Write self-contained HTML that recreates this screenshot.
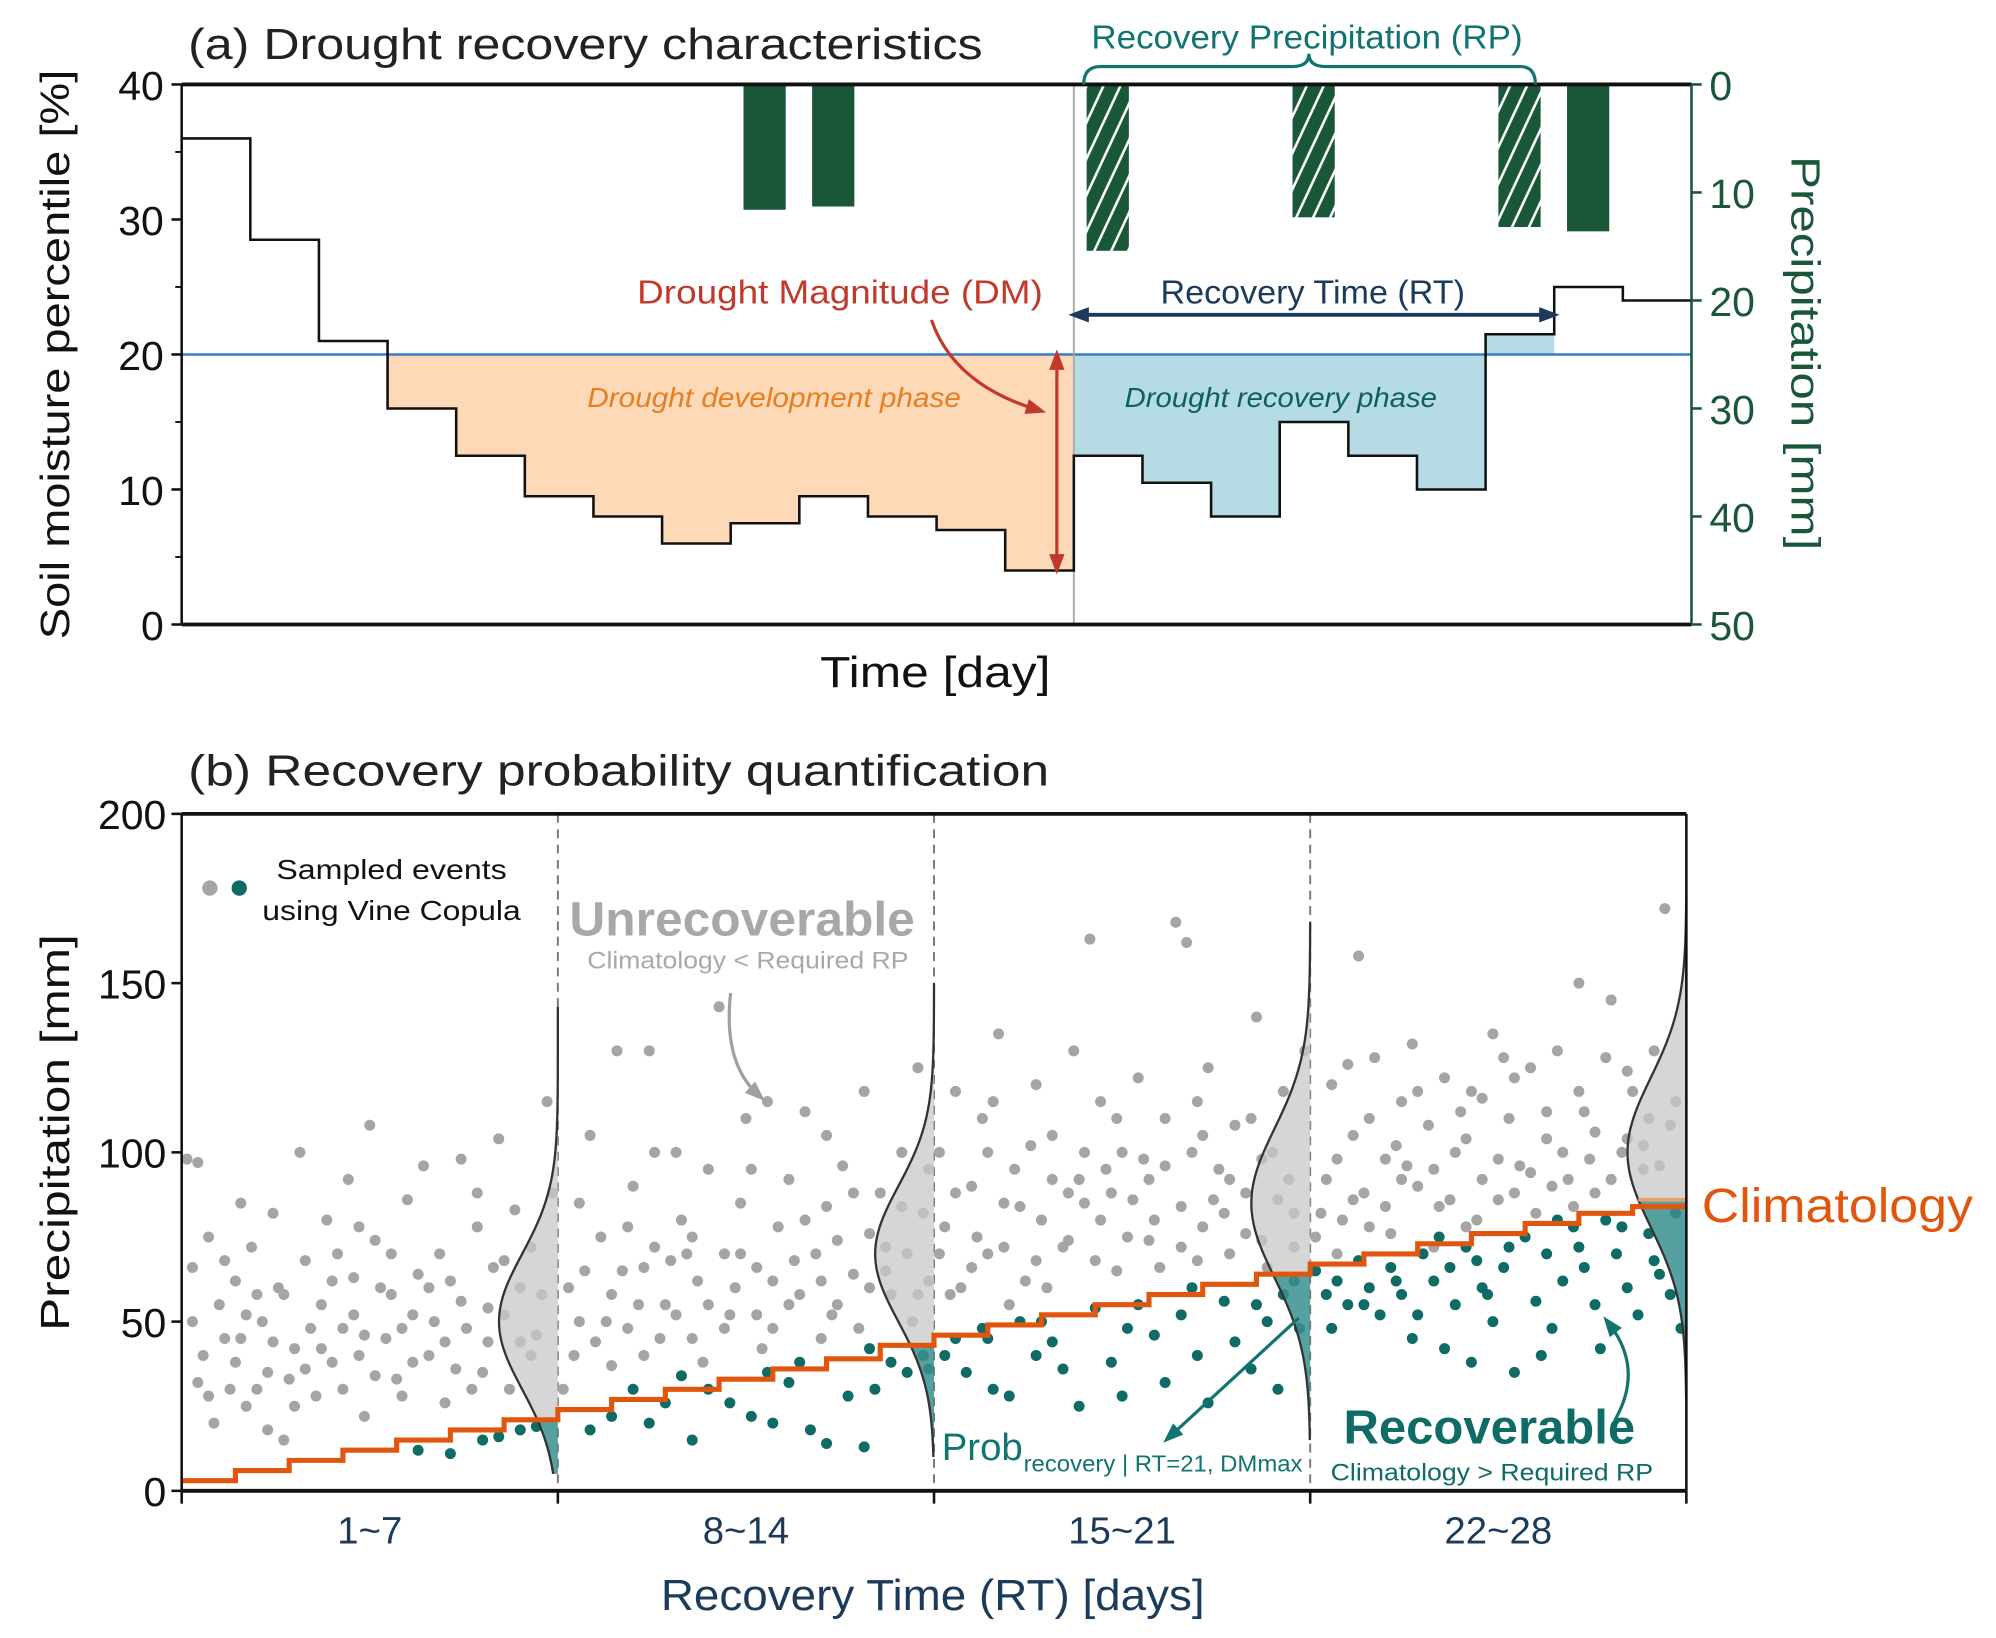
<!DOCTYPE html>
<html><head><meta charset="utf-8"><style>
html,body{margin:0;padding:0;background:#fff;}
svg{display:block;font-family:"Liberation Sans",sans-serif;}
</style></head><body>
<svg id="fig" width="1996" height="1638" viewBox="0 0 1560 1280" preserveAspectRatio="none" xmlns="http://www.w3.org/2000/svg">
<defs>
<pattern id="hatch" patternUnits="userSpaceOnUse" width="12" height="12" patternTransform="rotate(25)">
<rect width="12" height="12" fill="#1a5638"/><line x1="6" y1="0" x2="6" y2="12" stroke="#fff" stroke-width="2"/>
</pattern>
<marker id="arrRed" markerUnits="userSpaceOnUse" markerWidth="16" markerHeight="16" refX="8" refY="8" orient="auto-start-reverse"><path d="M0,2 L16,8 L0,14 Z" fill="#c0392b"/></marker>
<marker id="arrNavy" markerUnits="userSpaceOnUse" markerWidth="16" markerHeight="16" refX="8" refY="8" orient="auto-start-reverse"><path d="M0,2 L16,8 L0,14 Z" fill="#1c3b5a"/></marker>
<marker id="arrGray" markerUnits="userSpaceOnUse" markerWidth="16" markerHeight="16" refX="8" refY="8" orient="auto"><path d="M0,2 L16,8 L0,14 Z" fill="#a0a0a0"/></marker>
<marker id="arrTeal" markerUnits="userSpaceOnUse" markerWidth="16" markerHeight="16" refX="8" refY="8" orient="auto"><path d="M0,2 L16,8 L0,14 Z" fill="#117470"/></marker>
</defs>
<g id="pa"></g>
<g id="pb"></g>

<text x="147" y="46" font-size="34" fill="#222" textLength="621" lengthAdjust="spacingAndGlyphs">(a) Drought recovery characteristics</text>
<text x="853" y="38" font-size="26" fill="#117470" textLength="337" lengthAdjust="spacingAndGlyphs">Recovery Precipitation (RP)</text>
<path d="M847,66 Q847,52 860,52 L1010,52 Q1023,52 1023,42 Q1023,52 1036,52 L1188,52 Q1200,52 1200,66" fill="none" stroke="#117470" stroke-width="2.5"/>
<text transform="translate(54,277) rotate(-90)" text-anchor="middle" font-size="32" fill="#111" textLength="445" lengthAdjust="spacingAndGlyphs">Soil moisture percentile [%]</text>
<text transform="translate(1400,276) rotate(90)" text-anchor="middle" font-size="32" fill="#1a5638" textLength="308" lengthAdjust="spacingAndGlyphs">Precipitation [mm]</text>
<text x="731" y="537" text-anchor="middle" font-size="34" fill="#111" textLength="180" lengthAdjust="spacingAndGlyphs">Time [day]</text>
<text x="498" y="237" font-size="26" fill="#c0392b" textLength="317" lengthAdjust="spacingAndGlyphs">Drought Magnitude (DM)</text>
<text x="907" y="237" font-size="26" fill="#1c3b5a" textLength="238" lengthAdjust="spacingAndGlyphs">Recovery Time (RT)</text>
<text x="459" y="318" font-size="22" font-style="italic" fill="#e67e22" textLength="292" lengthAdjust="spacingAndGlyphs">Drought development phase</text>
<text x="879" y="318" font-size="22" font-style="italic" fill="#0f5f5c" textLength="244" lengthAdjust="spacingAndGlyphs">Drought recovery phase</text>
<line x1="843" y1="246" x2="1211" y2="246" stroke="#1c3b5a" stroke-width="3" marker-start="url(#arrNavy)" marker-end="url(#arrNavy)"/>
<line x1="826" y1="281" x2="826" y2="441" stroke="#c0392b" stroke-width="2.5" marker-start="url(#arrRed)" marker-end="url(#arrRed)"/>
<path d="M728,250 Q745,300 810,320" fill="none" stroke="#c0392b" stroke-width="2.5" marker-end="url(#arrRed)"/>

<text x="147" y="614" font-size="34" fill="#222" textLength="673" lengthAdjust="spacingAndGlyphs">(b) Recovery probability quantification</text>
<text transform="translate(54,885) rotate(-90)" text-anchor="middle" font-size="32" fill="#111" textLength="310" lengthAdjust="spacingAndGlyphs">Precipitation [mm]</text>
<text x="729" y="1258" text-anchor="middle" font-size="34" fill="#1c3b5a" textLength="425" lengthAdjust="spacingAndGlyphs">Recovery Time (RT) [days]</text>
<circle cx="164" cy="694" r="6" fill="#a5a5a5"/>
<circle cx="187" cy="694" r="6" fill="#0e6b66"/>
<text x="306" y="687" text-anchor="middle" font-size="22" fill="#111" textLength="180" lengthAdjust="spacingAndGlyphs">Sampled events</text>
<text x="306" y="719" text-anchor="middle" font-size="22" fill="#111" textLength="202" lengthAdjust="spacingAndGlyphs">using Vine Copula</text>
<text x="445" y="731" font-size="38" font-weight="bold" fill="#a8a8a8" textLength="270" lengthAdjust="spacingAndGlyphs">Unrecoverable</text>
<text x="459" y="757" font-size="19" fill="#a8a8a8" textLength="251" lengthAdjust="spacingAndGlyphs">Climatology &lt; Required RP</text>
<path d="M571,776 Q565,830 592,855" fill="none" stroke="#a0a0a0" stroke-width="2.5" marker-end="url(#arrGray)"/>
<text x="1330" y="955" font-size="38" fill="#e0560f" textLength="212" lengthAdjust="spacingAndGlyphs">Climatology</text>
<text x="1050" y="1128" font-size="38" font-weight="bold" fill="#0e6b66" textLength="228" lengthAdjust="spacingAndGlyphs">Recoverable</text>
<text x="1040" y="1157" font-size="19" fill="#0e6b66" textLength="252" lengthAdjust="spacingAndGlyphs">Climatology &gt; Required RP</text>
<text x="736" y="1141" font-size="30" fill="#117470">Prob</text>
<text x="800" y="1150" font-size="18" fill="#117470" textLength="218" lengthAdjust="spacingAndGlyphs">recovery | RT=21, DMmax</text>
<line x1="1015" y1="1030" x2="915" y2="1122" stroke="#117470" stroke-width="2.5" marker-end="url(#arrTeal)"/>
<path d="M1262,1110 Q1285,1070 1258,1035" fill="none" stroke="#117470" stroke-width="2.5" marker-end="url(#arrTeal)"/>
</svg>
<script>
const soilSteps = [36,28.5,21,16,12.5,9.5,8,6,7.5,9.5,8,7,4,12.5,10.5,8,15,12.5,10,21.5,25,24];
const precipDays = [8,9,13,16,19,20];
const precipValues = [11.6,11.3,15.4,12.3,13.2,13.6];
const precipHatched = [false,false,true,true,true,false];
const soilTicks = [0,10,20,30,40];
const precipTicks = [0,10,20,30,40,50];
const droughtThreshold = 20;

const rtLabels = ["1~7","8~14","15~21","22~28"];
const climatology = [3,6,9,12,15,18,21,24,27,30,33,36,39,43,46,49,52,55,58,61,64,67,70,73,76,79,82,84];
const sectionClim = [21,43,64,86];
const kdeMean = [50,70,85,100];
const kdeSd = [20,20,22,22];
const kdeLow = [5,10,15,27];
const kdeHigh = [143,150,168,174];
const pbTicks = [0,50,100,150,200];
const grayX = [0.1,0.3,0.2,0.5,0.4,0.7,0.6,0.9,1.0,1.1,1.3,1.2,1.5,1.6,1.7,1.8,1.9,2.1,2.2,2.3,2.5,2.6,2.7,2.8,3.0,3.1,3.2,3.4,3.5,3.6,3.8,3.9,4.0,4.2,4.3,4.5,4.6,4.8,4.9,5.0,5.2,5.3,5.5,5.6,5.8,5.9,6.0,6.2,6.3,6.5,6.7,6.8,6.9,0.8,1.4,2.0,2.9,3.3,4.1,4.4,5.1,5.7,6.1,6.6,0.3,1.6,2.4,3.7,4.7,
0.2,0.5,0.8,1.0,1.2,1.4,1.7,1.9,2.1,2.3,2.6,2.8,3.0,3.2,3.4,3.6,3.9,4.1,4.3,4.6,4.9,5.2,5.4,5.7,6.0,6.3,6.5,1.1,3.3,5.5,
7.2,7.4,7.3,7.6,7.8,7.9,8.1,8.2,8.4,8.6,8.7,8.8,9.0,9.2,9.3,9.5,9.6,9.8,10.0,10.1,10.2,10.4,10.5,10.7,10.9,11.0,11.1,11.3,11.5,11.6,11.8,12.0,12.1,12.3,12.5,12.7,12.8,13.0,13.2,13.4,13.5,13.7,13.8,13.9,7.5,8.0,8.5,9.1,9.7,10.3,10.8,11.4,12.2,12.6,13.1,13.6,11.9,9.4,8.3,
7.1,7.4,7.7,8.0,8.3,8.6,8.9,9.2,9.5,9.8,10.1,10.4,10.7,11.0,11.3,11.6,11.9,12.2,12.5,12.8,13.1,13.4,13.7,13.9,10.6,8.8,12.0,
14.1,14.2,14.4,14.5,14.7,14.9,15.0,15.2,15.3,15.5,15.7,15.9,16.0,16.2,16.4,16.6,16.7,16.9,17.0,17.1,17.3,17.5,17.6,17.8,18.0,18.2,18.3,18.5,18.6,18.7,18.8,19.0,19.1,19.3,19.5,19.6,19.8,20.0,20.1,20.3,20.5,20.7,20.9,14.3,14.8,15.4,16.1,16.8,17.4,18.1,18.9,19.4,20.2,20.6,15.8,17.9,19.9,16.5,
14.1,14.4,14.7,15.0,15.3,15.6,15.9,16.2,16.5,16.8,17.1,17.4,17.7,18.0,18.3,18.6,18.9,19.2,19.5,19.8,20.1,20.4,20.7,17.2,15.1,19.0,
21.1,21.3,21.4,21.6,21.8,21.9,22.0,22.2,22.4,22.5,22.7,22.9,23.0,23.2,23.4,23.5,23.7,23.9,24.0,24.2,24.4,24.5,24.7,24.9,25.1,25.2,25.4,25.6,25.8,26.0,26.1,26.3,26.5,26.6,26.8,27.0,27.2,27.4,27.6,27.7,21.5,22.1,22.8,23.3,24.1,24.8,25.5,26.2,26.9,27.3,25.9,23.8,22.6,
21.2,21.5,21.8,22.1,22.4,22.7,23.0,23.3,23.6,23.9,24.2,24.5,24.8,25.1,25.4,25.7,26.0,26.3,26.6,26.9,27.2,27.5,27.8,21.7,24.6];
const grayY = [98,97,66,75,40,55,20,30,62,45,72,25,50,35,82,60,15,42,100,68,28,55,80,38,48,92,63,22,108,74,45,58,33,86,52,96,40,70,26,62,98,48,78,35,66,104,52,83,44,72,58,115,88,45,58,33,70,40,28,64,36,54,30,46,32,18,48,60,50,
50,28,68,38,52,30,44,58,25,36,42,62,30,52,46,34,70,48,38,60,44,56,30,44,68,60,40,85,78,88,
60,85,40,105,75,50,130,65,90,40,130,72,55,100,80,45,62,95,143,70,52,85,110,66,115,48,78,92,58,112,70,84,52,96,64,118,76,88,58,100,70,125,82,62,65,37,55,68,38,60,42,68,74,48,72,50,45,70,78,
30,50,44,58,48,66,45,52,75,55,48,70,52,62,55,80,62,55,88,60,65,84,58,95,95,100,105,
100,78,118,60,90,110,70,135,85,95,62,120,80,105,72,130,92,163,68,115,88,100,75,122,92,66,110,168,84,162,100,78,125,95,70,108,88,140,74,100,118,82,130,58,75,55,60,85,65,80,68,82,66,92,102,98,110,88,
70,88,66,100,72,84,68,92,74,100,80,110,86,74,96,72,115,86,92,76,98,86,72,95,115,105,
75,92,120,80,105,158,88,128,98,76,115,132,90,108,84,122,100,78,118,92,135,86,110,96,125,82,104,130,92,150,112,88,128,145,100,118,95,130,172,108,70,78,96,72,80,88,90,98,104,110,84,112,102,
82,98,86,110,84,92,118,95,86,104,116,98,122,94,112,100,118,106,92,124,102,96,115,126,128];
const tealX = [4.4,5.0,5.6,5.9,6.3,6.6,
7.6,8.0,8.4,8.7,9.0,9.5,9.8,10.2,10.6,11.0,11.3,11.7,12.0,12.4,12.9,13.2,13.5,13.8,12.7,10.9,9.3,11.5,12.8,13.9,
14.2,14.4,14.6,14.9,15.1,15.4,15.6,15.9,16.2,16.4,16.7,17.0,17.3,17.5,17.8,18.1,18.3,18.6,18.9,19.1,19.4,19.6,19.9,20.2,20.5,20.8,20.4,15.0,16.0,17.6,18.8,20.0,20.7,
21.1,21.3,21.5,21.7,21.9,22.1,22.3,22.5,22.7,22.9,23.1,23.3,23.5,23.7,23.9,24.0,24.2,24.4,24.6,24.8,25.0,25.2,25.4,25.5,25.7,25.9,26.1,26.3,26.5,26.7,26.9,27.1,27.3,27.5,27.7,27.9,26.4,25.3,24.3,23.6,
21.4,22.0,22.6,23.0,23.4,24.1,24.7,25.6,26.0,26.8,27.4,27.8];
const tealY = [12,11,15,16,18,19,
18,22,30,20,26,15,30,26,22,20,32,18,14,28,30,38,35,40,13,35,34,38,42,36,
40,45,35,48,30,28,50,40,44,36,25,54,38,28,55,46,32,52,40,26,56,44,36,50,58,48,30,45,50,48,60,55,62,
65,58,62,55,68,60,52,66,58,45,70,62,42,55,72,38,60,50,66,35,75,56,70,48,62,78,66,55,80,70,60,52,76,64,58,48,42,40,58,66,
48,55,62,52,75,68,72,80,72,78,68,82];

const NS = "http://www.w3.org/2000/svg";
function mk(parent, tag, attrs){const e=document.createElementNS(NS,tag);for(const k in attrs)e.setAttribute(k,attrs[k]);parent.appendChild(e);return e;}

const pa = document.getElementById('pa');
const aL=142,aR=1322,aT=66,aB=488;
const nSteps = soilSteps.length;
const sw=(aR-aL)/nSteps;
const ax = i => aL + i*sw;
const ay = v => aB - (v/40)*(aB-aT);
const py = v => aT + (v/50)*(aB-aT);

for(let i=0;i<nSteps;i++){
  const v=soilSteps[i];
  if(i<13 && v<droughtThreshold){
    const r=mk(pa,'rect',{x:ax(i),y:ay(droughtThreshold),width:sw+0.5,height:ay(v)-ay(droughtThreshold),fill:'#fdd9b8'});
    
    
  } else if(i>=13 && i<19 && v<droughtThreshold){
    const r=mk(pa,'rect',{x:ax(i),y:ay(droughtThreshold),width:sw+0.5,height:ay(v)-ay(droughtThreshold),fill:'#b5dbe4'});
    
    
  } else if(i===19){
    const r=mk(pa,'rect',{x:ax(i),y:ay(v),width:sw,height:ay(droughtThreshold)-ay(v),fill:'#b5dbe4'});
    
    
  }
}
for(let k=0;k<precipDays.length;k++){
  const b=mk(pa,'rect',{x:ax(precipDays[k])+10,y:aT,width:33,height:py(precipValues[k])-aT,fill:precipHatched[k]?'url(#hatch)':'#1a5638'});
  
  
}
const th=mk(pa,'line',{x1:aL,x2:aR,y1:ay(droughtThreshold),y2:ay(droughtThreshold),stroke:'#3a7bc8','stroke-width':2});


const dv=mk(pa,'line',{x1:ax(13),x2:ax(13),y1:aT,y2:aB,stroke:'#aaa','stroke-width':1.5});


let d="";
for(let i=0;i<nSteps;i++){ d += (i===0?"M":"L")+ax(i)+","+ay(soilSteps[i])+" L"+ax(i+1)+","+ay(soilSteps[i])+" "; }
const sl=mk(pa,'path',{d:d,fill:'none',stroke:'#111','stroke-width':2});


const fr=mk(pa,'path',{d:`M${aL},${aT} L${aR},${aT} M${aL},${aB} L${aR},${aB}`,stroke:'#111','stroke-width':3,fill:'none'});


const la=mk(pa,'line',{x1:aL,x2:aL,y1:aT,y2:aB,stroke:'#111','stroke-width':2});


const ra=mk(pa,'line',{x1:aR,x2:aR,y1:aT,y2:aB,stroke:'#1a5638','stroke-width':2});


soilTicks.forEach(t=>{
  const tk=mk(pa,'line',{x1:aL-8,x2:aL,y1:ay(t),y2:ay(t),stroke:'#111','stroke-width':2});
  
  
  const tl=mk(pa,'text',{x:aL-14,y:ay(t)+12,'text-anchor':'end','font-size':32,fill:'#111'});
  tl.textContent=t;
  
  
});
soilTicks.slice(0,4).forEach(t=>{
  const tk=mk(pa,'line',{x1:aL-5,x2:aL,y1:ay(t+5),y2:ay(t+5),stroke:'#111','stroke-width':1.5});
  
  
});
precipTicks.forEach(t=>{
  const tk=mk(pa,'line',{x1:aR,x2:aR+8,y1:py(t),y2:py(t),stroke:'#1a5638','stroke-width':2});
  
  
  const tl=mk(pa,'text',{x:aR+14,y:py(t)+12,'font-size':32,fill:'#1a5638'});
  tl.textContent=t;
  
  
});

const pb=document.getElementById('pb');
const bL=142,bR=1318,bT=636,bB=1165;
const days=climatology.length;
const bx = dday => bL + dday*(bR-bL)/days;
const by = v => bB - (v/200)*(bB-bT);
const secW=(bR-bL)/4;
for(let s=1;s<4;s++){
  const l=mk(pb,'line',{x1:bL+s*secW,x2:bL+s*secW,y1:bT,y2:bB,stroke:'#777','stroke-width':1.5,'stroke-dasharray':'7,5'});
  
  
}
for(let i=0;i<grayX.length;i++){
  const c=mk(pb,'circle',{cx:bx(grayX[i]),cy:by(grayY[i]),r:4.3,fill:'#a5a5a5'});
  
  
}
for(let i=0;i<tealX.length;i++){
  const c=mk(pb,'circle',{cx:bx(tealX[i]),cy:by(tealY[i]),r:4.3,fill:'#0e6b66'});
  
  
}
for(let s=0;s<4;s++){
  const xb=bL+(s+1)*secW, amp=46;
  const pts=[];
  for(let v=kdeLow[s]; v<=kdeHigh[s]; v+=1){
    const w=Math.exp(-0.5*Math.pow((v-kdeMean[s])/kdeSd[s],2));
    pts.push([xb-amp*w, by(v), v]);
  }
  const up=pts.filter(p=>p[2]>=sectionClim[s]), lo=pts.filter(p=>p[2]<=sectionClim[s]);
  let dg=`M${xb},${by(sectionClim[s])} `+up.map(p=>`L${p[0]},${p[1]}`).join(' ')+` L${xb},${up[up.length-1][1]} Z`;
  const g=mk(pb,'path',{d:dg,fill:'#c8c8c8','fill-opacity':0.75});
  
  
  let dt=`M${xb},${lo[0][1]} `+lo.map(p=>`L${p[0]},${p[1]}`).join(' ')+` L${xb},${by(sectionClim[s])} Z`;
  const t=mk(pb,'path',{d:dt,fill:'#3a8f8f','fill-opacity':0.85});
  
  
  const cl=mk(pb,'path',{d:'M'+pts.map(p=>p[0]+','+p[1]).join(' L'),fill:'none',stroke:'#333','stroke-width':1.8});
  
  
  const cc=mk(pb,'line',{x1:xb-amp*Math.exp(-0.5*Math.pow((sectionClim[s]-kdeMean[s])/kdeSd[s],2)),x2:xb,y1:by(sectionClim[s]),y2:by(sectionClim[s]),stroke:'#e8a070','stroke-width':3});
  
  
}
let cd="";
for(let i=0;i<days;i++){ cd+=(i===0?"M":"L")+bx(i)+","+by(climatology[i])+" L"+bx(i+1)+","+by(climatology[i])+" "; }
const cs=mk(pb,'path',{d:cd,fill:'none',stroke:'#e0560f','stroke-width':4});


const bf=mk(pb,'path',{d:`M${bL},${bT} L${bR},${bT} M${bL},${bB} L${bR},${bB}`,stroke:'#111','stroke-width':3,fill:'none'});


const bl=mk(pb,'path',{d:`M${bL},${bT} L${bL},${bB} M${bR},${bT} L${bR},${bB}`,stroke:'#111','stroke-width':2,fill:'none'});


pbTicks.forEach(t=>{
  const tk=mk(pb,'line',{x1:bL-8,x2:bL,y1:by(t),y2:by(t),stroke:'#111','stroke-width':2});
  
  
  const tl=mk(pb,'text',{x:bL-12,y:by(t)+12,'text-anchor':'end','font-size':32,fill:'#111'});
  tl.textContent=t;
  
  
});
for(let s=0;s<=4;s++){
  const tk=mk(pb,'line',{x1:bL+s*secW,x2:bL+s*secW,y1:bB,y2:bB+10,stroke:'#111','stroke-width':2});
  
  
}
rtLabels.forEach((lab,s)=>{
  const tl=mk(pb,'text',{x:bL+(s+0.5)*secW,y:1206,'text-anchor':'middle','font-size':30,fill:'#1c3b5a'});
  tl.textContent=lab;
  
  
});
</script>
</body></html>
